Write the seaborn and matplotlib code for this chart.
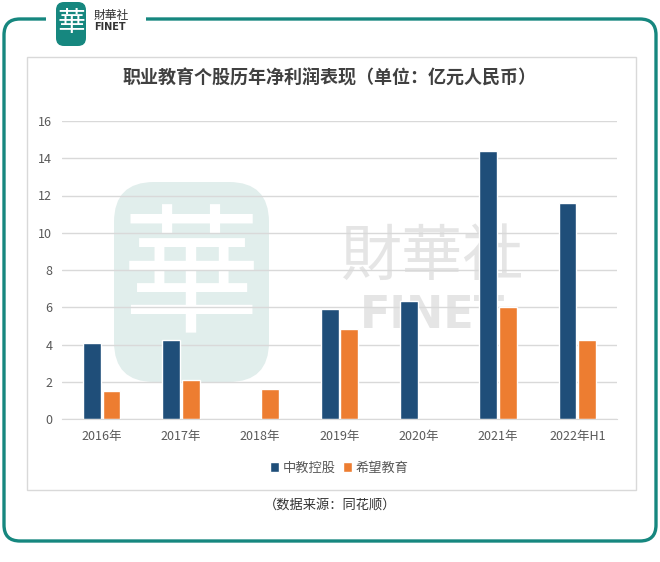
import matplotlib
matplotlib.use("Agg")
import matplotlib.pyplot as plt
from matplotlib.patches import FancyBboxPatch, Rectangle
import numpy as np
import pandas as pd
import seaborn as sns

years = ['2016年', '2017年', '2018年', '2019年', '2020年', '2021年', '2022年H1']
zhongjiao = [4.08, 4.26, np.nan, 5.88, 6.31, 14.38, 11.6]
xiwang = [1.49, 2.10, 1.62, 4.85, np.nan, 6.0, 4.26]
series_names = ['中教控股', '希望教育']
yticks = [0, 2, 4, 6, 8, 10, 12, 14, 16]

df = pd.DataFrame({
    'year': years * 2,
    'value': zhongjiao + xiwang,
    'company': [series_names[0]] * len(years) + [series_names[1]] * len(years),
})

sns.set_style('white')
plt.rcParams['font.family'] = ['Noto Sans CJK SC', 'DejaVu Sans']

W, H = 660, 562
fig = plt.figure(figsize=(W / 100, H / 100), dpi=100)

# background layer in pixel coordinates: frame, logo, watermark
bg = fig.add_axes([0, 0, 1, 1])
bg.set_xlim(0, W)
bg.set_ylim(H, 0)
bg.axis('off')

teal = '#16877f'
bg.add_patch(FancyBboxPatch((4, 19), 652, 522, boxstyle='round,pad=0,rounding_size=16',
                            fill=False, ec=teal, lw=2.4))
bg.add_patch(Rectangle((46, 8), 100, 20, fc='white', ec='none', zorder=2))
# logo
bg.add_patch(FancyBboxPatch((56, 2), 30, 44, boxstyle='round,pad=0,rounding_size=8',
                            fc=teal, ec='none', zorder=3))
bg.text(71, 23, '華', color='white', fontsize=20, ha='center', va='center', zorder=4)
bg.text(94, 15, '財華社', color='#333333', fontsize=8.5, ha='left', va='center', zorder=4)
bg.text(94, 27, 'FINET', color='#333333', fontsize=7, ha='left', va='center',
        fontweight='bold', family='DejaVu Sans', zorder=4)

# inner chart box
bg.add_patch(Rectangle((27, 57), 609, 433, fill=False, ec='#d9d9d9', lw=1))

# watermark
bg.add_patch(FancyBboxPatch((114, 182), 155, 200, boxstyle='round,pad=0,rounding_size=40',
                            fc='#e1eeec', ec='none'))
bg.text(191, 282, '華', color='white', fontsize=100, ha='center', va='center')
bg.text(432, 258, '財華社', color='#e5e5e5', fontsize=44, ha='center', va='center')
bg.text(432, 316, 'FINET', color='#e5e5e5', fontsize=32, ha='center', va='center',
        fontweight='bold', family='DejaVu Sans')

bg.text(330, 78, '职业教育个股历年净利润表现（单位：亿元人民币）', color='#404040',
        fontsize=13, fontweight='bold', ha='center', va='center')
bg.text(330, 505, '（数据来源：同花顺）', color='#333333', fontsize=9.5,
        ha='center', va='center')

ax = fig.add_axes([62 / W, 1 - 419 / H, (617 - 62) / W, (419 - 121) / H])
ax.set_facecolor('none')
sns.barplot(data=df, x='year', y='value', hue='company', order=years,
            hue_order=series_names, palette=['#1f4e79', '#ed7d31'],
            width=0.5, gap=0.1, saturation=1, ax=ax)

ax.set_xlim(-0.5, len(years) - 0.5)
ax.set_ylim(0, 16)
ax.set_yticks(yticks)
ax.yaxis.grid(True, color='#d9d9d9', lw=1)
ax.set_axisbelow(True)
for s in ['top', 'right', 'left']:
    ax.spines[s].set_visible(False)
ax.spines['bottom'].set_color('#d9d9d9')
ax.tick_params(axis='both', length=0, labelsize=9, colors='#595959')
ax.tick_params(axis='y', pad=7)
ax.tick_params(axis='x', pad=8)
ax.set_xlabel('')
ax.set_ylabel('')

sns.move_legend(ax, 'center', bbox_to_anchor=(0.5, -0.165), ncol=2, frameon=False,
                title=None, fontsize=9.5, handlelength=0.7, handleheight=0.7,
                handletextpad=0.3, columnspacing=0.5, labelcolor='#595959')

fig.savefig('out.png', dpi=100)
